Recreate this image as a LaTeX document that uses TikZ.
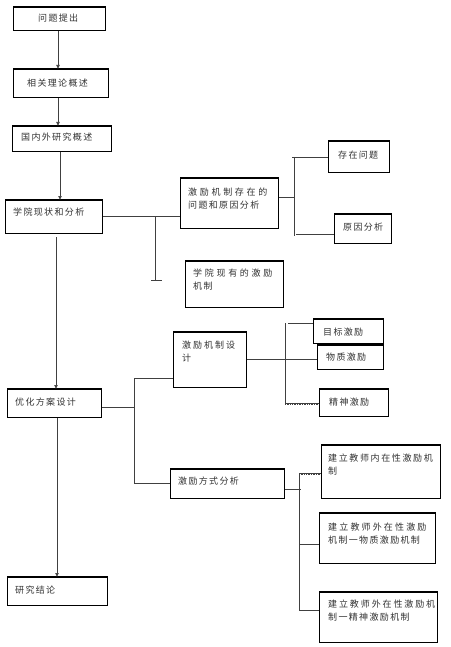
\documentclass[tikz,border=0pt]{standalone}
\usepackage{fontspec}
\newfontfamily\cjk[LetterSpace=15]{Noto Sans CJK SC}
\usetikzlibrary{arrows.meta}
\newcommand\mkbox[5]{%
  \node[box, anchor=north west, minimum width={(#4-#2)*1pt}, minimum height={(#5-#3)*1pt}] (#1) at (#2,#3) {};
  \draw[line width=1.4pt] (#1.north west) -- (#1.north east) (#1.south west) -- (#1.south east);
}
\begin{document}
\begin{tikzpicture}[x=1pt,y=-1pt,
  box/.style={draw=black, line width=0.7pt, rectangle, inner sep=0pt, fill=white},
  txt/.style={inner sep=0pt, font=\cjk\fontsize{9}{13}\selectfont, text=black!80, align=left},
  ln/.style={draw=black!75, line width=0.7pt},
  arr/.style={ln, -{Latex[length=4pt,width=4pt]}}]
\useasboundingbox[fill=white] (0,0) rectangle (450,647);

% boxes
\mkbox{b1}{13}{7}{105}{30}
\mkbox{b2}{13}{69}{108}{97}
\mkbox{b3}{12}{126}{111}{151}
\mkbox{b4}{5}{200}{102}{233}
\mkbox{b5}{180}{178}{278}{228}
\mkbox{b6}{185}{261}{283}{307}
\mkbox{b7}{328}{141}{389}{172}
\mkbox{b8}{334}{214}{391}{243}
\mkbox{b9}{7}{389}{101}{417}
\mkbox{b10}{173}{332}{246}{387}
\mkbox{b11}{170}{469}{284}{498}
\mkbox{b12}{313}{319}{383}{343}
\mkbox{b13}{317}{345}{383}{369}
\mkbox{b14}{319}{389}{388}{416}
\mkbox{b15}{321}{445}{440}{498}
\mkbox{b16}{319}{513}{435}{563}
\mkbox{b17}{319}{592}{437}{642}
\mkbox{b18}{7}{577}{107}{605}

% texts
\node[txt, anchor=west] (t1) at (38,18) {问题提出};
\node[txt, anchor=west] (t2) at (27,83) {相关理论概述};
\node[txt, anchor=west] (t3) at (21,137) {国内外研究概述};
\node[txt, anchor=west] (t4) at (13,212) {学院现状和分析};
\node[txt, anchor=west] (t5) at (188,198.5) {{\addfontfeature{LetterSpace=30}激励机制存在的}\\问题和原因分析};
\node[txt, anchor=west] (t6) at (193,279.5) {{\addfontfeature{LetterSpace=30}学院现有的激励}\\机制};
\node[txt, anchor=west] (t7) at (338,155) {存在问题};
\node[txt, anchor=west] (t8) at (343,227) {原因分析};
\node[txt, anchor=west] (t9) at (15,402) {优化方案设计};
\node[txt, anchor=west] (t10) at (182,352) {{\addfontfeature{LetterSpace=22}激励机制设}\\计};
\node[txt, anchor=west] (t11) at (178,481) {激励方式分析};
\node[txt, anchor=west] (t12) at (323,332) {目标激励};
\node[txt, anchor=west] (t13) at (326,357) {物质激励};
\node[txt, anchor=west] (t14) at (329,402) {精神激励};
\node[txt, anchor=west] (t15) at (328,465) {{\addfontfeature{LetterSpace=18}建立教师内在性激励机}\\制};
\node[txt, anchor=west] (t16) at (328,533.5) {{\addfontfeature{LetterSpace=24}建立教师外在性激励}\\机制一物质激励机制};
\node[txt, anchor=west] (t17) at (328,611) {{\addfontfeature{LetterSpace=21}建立教师外在性激励机}\\制一精神激励机制};
\node[txt, anchor=west] (t18) at (15,590) {研究结论};

% main vertical arrows
\coordinate (m1) at (58,0);
\coordinate (m3) at (60,0);
\coordinate (m4) at (56,237);
\coordinate (m9) at (57,0);
\draw[arr] (b1.south -| m1) -- (b2.north -| m1);
\draw[arr] (b2.south -| m1) -- (b3.north -| m1);
\draw[arr] (b3.south -| m3) -- (b4.north -| m3);
\draw[arr] (m4) -- (b9.north -| m4);
\draw[arr] (b9.south -| m9) -- (b18.north -| m9);

% branch from 学院现状和分析
\coordinate (c4) at (155,216);
\coordinate (c4b) at (155,280);
\coordinate (c4l) at (151,280);
\coordinate (c4r) at (162,280);
\draw[ln] (b4.east |- c4) -- (b5.west |- c4);
\draw[ln] (c4) -- (c4b);
\draw[ln] (c4l) -- (c4r);

% branch from 激励机制存在的问题和原因分析
\coordinate (c5) at (294,197);
\coordinate (c5t) at (294,157);
\coordinate (c5tl) at (292,157);
\coordinate (c5b) at (294,236);
\coordinate (c5bl) at (296,234);
\draw[ln] (b5.east |- c5) -- (c5);
\draw[ln] (c5t) -- (c5b);
\draw[ln] (c5tl) -- (b7.west |- c5tl);
\draw[ln] (c5bl) -- (b8.west |- c5bl);

% branch from 优化方案设计
\coordinate (c9) at (134,407);
\coordinate (c9t) at (134,378);
\coordinate (c9b) at (134,483);
\draw[ln] (b9.east |- c9) -- (c9);
\draw[ln] (c9t) -- (c9b);
\draw[ln] (c9t) -- (b10.west |- c9t);
\draw[ln] (c9b) -- (b11.west |- c9b);

% branch from 激励机制设计
\coordinate (c10) at (285,359);
\coordinate (c10t) at (285,323);
\coordinate (c10tl) at (288,323);
\coordinate (c10b) at (285,403);
\draw[ln] (b10.east |- c10) -- (b13.west |- c10);
\draw[ln] (c10t) -- (c10b);
\draw[ln] (c10tl) -- (b12.west |- c10tl);
\draw[ln] (c10b) -- (b14.west |- c10b);
\draw[ln, densely dotted, line width=1.2pt] ([yshift=-1]c10b) -- ([yshift=-1]b14.west |- c10b);

% branch from 激励方式分析
\coordinate (c11) at (299,489);
\coordinate (c11e) at (301,489);
\coordinate (c11t) at (299,473);
\coordinate (c11m) at (299,544);
\coordinate (c11b) at (299,610);
\draw[ln] (b11.east |- c11) -- (c11e);
\draw[ln] (c11t) -- (c11b);
\draw[ln] (c11t) -- (b15.west |- c11t);
\draw[ln, densely dotted, line width=1.2pt] ([yshift=-1]c11t) -- ([yshift=-1]b15.west |- c11t);
\draw[ln] (c11m) -- (b16.west |- c11m);
\draw[ln] (c11b) -- (b17.west |- c11b);
\end{tikzpicture}
\end{document}
